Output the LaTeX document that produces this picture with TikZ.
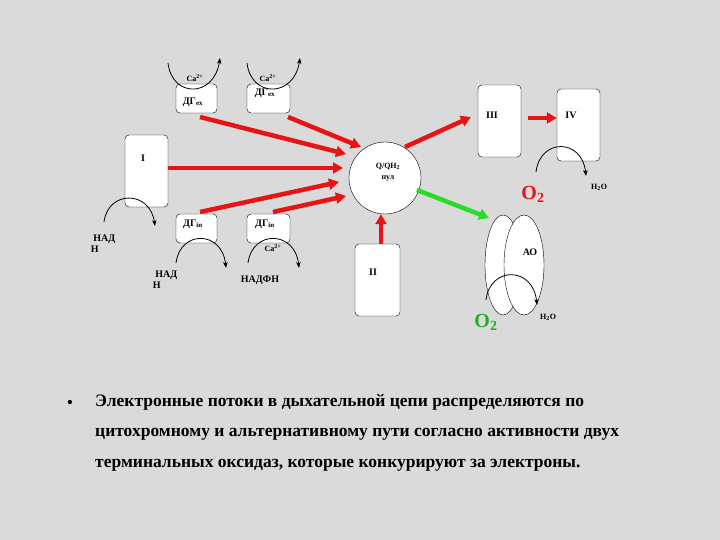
\documentclass[tikz,border=0pt]{standalone}
\usepackage{fontspec}
\setmainfont{Liberation Serif}
\usetikzlibrary{arrows.meta,shapes.geometric}
\definecolor{bg}{RGB}{218,218,218}
\definecolor{rd}{RGB}{230,20,20}
\definecolor{gr}{RGB}{40,220,40}
\begin{document}
\begin{tikzpicture}[x=1pt,y=-1pt,
  box/.style={draw,fill=white,rounded corners=4pt,inner sep=0pt},
  lbl/.style={font=\bfseries\fontsize{10}{11}\selectfont,inner sep=0pt},
  sm/.style={font=\bfseries\fontsize{8}{9}\selectfont,inner sep=0pt},
  rarr/.style={draw=rd,line width=4.5pt,-{Triangle[length=10pt,width=11pt]}},
  garr/.style={draw=gr,line width=4.5pt,-{Triangle[length=10pt,width=11pt]}},
  carc/.style={draw,thick,-{Stealth[length=6pt]}}]
\fill[bg] (0,0) rectangle (720,540);
\useasboundingbox (0,0) rectangle (720,540);
% boxes
\node[box,minimum width=41pt,minimum height=29pt] (ex1) at (196.5,98.5) {};
\node[box,minimum width=43pt,minimum height=29pt] (ex2) at (268.5,98.5) {};
\node[box,minimum width=41pt,minimum height=29pt] (in1) at (196.5,228.5) {};
\node[box,minimum width=43pt,minimum height=29pt] (in2) at (268.5,228.5) {};
\node[box,minimum width=43pt,minimum height=72pt] (I) at (146.5,171) {};
\node[box,minimum width=45pt,minimum height=72pt] (II) at (377.5,280) {};
\node[box,minimum width=43pt,minimum height=72pt] (III) at (499.5,121) {};
\node[box,minimum width=43pt,minimum height=72pt] (IV) at (578.5,125) {};
\node[draw,fill=white,circle,minimum size=72pt,inner sep=0pt] (Q) at (385,178) {};
\node[draw,fill=white,ellipse,minimum width=36pt,minimum height=100pt,inner sep=0pt] (ao1) at (503,265) {};
\node[draw,fill=white,ellipse,minimum width=40pt,minimum height=100pt,inner sep=0pt] (ao2) at (524,265) {};
% labels
\node[lbl] (tex1) at (193,102) {ДГ\textsubscript{ex}};
\node[lbl] (tex2) at (265,93) {ДГ\textsubscript{ex}};
\node[lbl] (tin1) at (193,224) {ДГ\textsubscript{in}};
\node[lbl] (tin2) at (265,224) {ДГ\textsubscript{in}};
\node[lbl] (tI) at (143,158) {I};
\node[lbl] (tII) at (373,272) {II};
\node[lbl] (tIII) at (492,115) {III};
\node[lbl] (tIV) at (571,115) {IV};
\node[sm,align=center] (tQ) at (388,172) {Q/QH\textsubscript{2}\\[2pt]пул};
\node[lbl] (tAO) at (530,252) {АО};
\node[sm] (ca1) at (195,78) {Ca\textsuperscript{2+}};
\node[sm] (ca2) at (268,78) {Ca\textsuperscript{2+}};
\node[sm] (ca3) at (273,248) {Ca\textsuperscript{2+}};
\node[lbl,align=left] (nad1) at (103,244) {\ НАД\\Н};
\node[lbl,align=left] (nad2) at (165,280) {\ НАД\\Н};
\node[lbl] (nadf) at (260,280) {НАДФН};
\node[font=\bfseries\fontsize{20}{20}\selectfont,text=rd,inner sep=0pt] (o2a) at (533,194) {O\textsubscript{2}};
\node[font=\bfseries\fontsize{20}{20}\selectfont,text=gr!80!black,inner sep=0pt] (o2b) at (486,322) {O\textsubscript{2}};
\node[sm] (h2oa) at (599,187) {H\textsubscript{2}O};
\node[sm] (h2ob) at (548,317) {H\textsubscript{2}O};
% arcs
\coordinate (a1s) at (168,63); \coordinate (a1e) at (220,58);
\draw[carc] (a1s) .. controls (172,98) and (214,98) .. (a1e);
\coordinate (a2s) at (247,63); \coordinate (a2e) at (300,58);
\draw[carc] (a2s) .. controls (251,98) and (294,98) .. (a2e);
\coordinate (b1s) at (104,222); \coordinate (b1e) at (155,226);
\draw[carc] (b1s) .. controls (108,190) and (150,190) .. (b1e);
\coordinate (b2s) at (176,263); \coordinate (b2e) at (226,268);
\draw[carc] (b2s) .. controls (180,230) and (222,230) .. (b2e);
\coordinate (b3s) at (248,263); \coordinate (b3e) at (299,268);
\draw[carc] (b3s) .. controls (252,230) and (295,230) .. (b3e);
\coordinate (b4s) at (536,172); \coordinate (b4e) at (586,176);
\draw[carc] (b4s) .. controls (540,138) and (582,138) .. (b4e);
\coordinate (b5s) at (486,300); \coordinate (b5e) at (537,305);
\draw[carc] (b5s) .. controls (490,266) and (533,266) .. (b5e);
% red arrows
\coordinate (r1s) at (200,117); \coordinate (r1e) at (346,154);
\draw[rarr] (r1s) -- (r1e);
\coordinate (r2s) at (288,117); \coordinate (r2e) at (361,147);
\draw[rarr] (r2s) -- (r2e);
\draw[rarr] (I.east|-0,168) -- (343,168);
\coordinate (r4s) at (200,212); \coordinate (r4e) at (339,182);
\draw[rarr] (r4s) -- (r4e);
\coordinate (r5s) at (273,212); \coordinate (r5e) at (346,196);
\draw[rarr] (r5s) -- (r5e);
\draw[rarr] (II.north -| 381,0) -- (Q.south -| 381,0);
\coordinate (r7s) at (405,147); \coordinate (r7e) at (471,117);
\draw[rarr] (r7s) -- (r7e);
\coordinate (r8s) at (528,118);
\draw[rarr] (r8s) -- (IV.west |- 0,118);
\coordinate (gs) at (417,190); \coordinate (ge) at (489,218);
\draw[garr] (gs) -- (ge);
% bottom text
\node[font=\fontsize{18}{18}\selectfont,inner sep=0pt] (bul) at (70,404) {•};
\node[font=\bfseries\fontsize{17.5}{30.5}\selectfont,anchor=north west,align=left,inner sep=0pt] (txt) at (95,394)
{Электронные потоки в дыхательной цепи распределяются по\\
цитохромному и альтернативному пути согласно активности двух\\
терминальных оксидаз, которые конкурируют за электроны.};
\end{tikzpicture}
\end{document}
